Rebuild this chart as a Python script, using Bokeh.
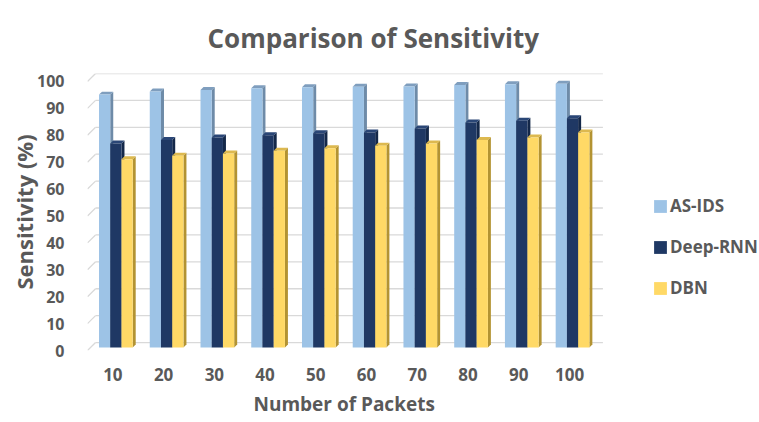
from bokeh.plotting import figure
from bokeh.models import (Range1d, FixedTicker, Legend, LegendItem, Title,
                          ColumnDataSource)
from bokeh.embed import file_html
from bokeh.resources import INLINE

# ---- data -------------------------------------------------------------
packets = ["10", "20", "30", "40", "50", "60", "70", "80", "90", "100"]
as_ids = [94.0, 95.2, 95.7, 96.4, 96.7, 96.9, 97.0, 97.6, 97.9, 98.0]
deep_rnn = [75.8, 77.1, 78.1, 78.9, 79.6, 79.9, 81.4, 83.6, 84.3, 85.2]
dbn = [70.0, 71.3, 72.1, 73.1, 74.1, 75.0, 75.8, 77.1, 78.1, 79.9]
series_names = ["AS-IDS", "Deep-RNN", "DBN"]
y_ticks = [0, 10, 20, 30, 40, 50, 60, 70, 80, 90, 100]

# ---- styling ----------------------------------------------------------
FRONT = ["#9DC3E6", "#1F3864", "#FFD966"]
SIDE = ["#6E8BA8", "#142849", "#B39332"]
TOP = ["#7F9EBE", "#2A4676", "#DDB94F"]
TEXT = "#595959"
GRID = "#D9D9D9"
FONT = "Open Sans"

# pseudo-3D geometry in data units
WALL_DX, WALL_DY = 0.158, 2.96     # depth of floor / back wall
BAR_DX, BAR_DY = 0.059, 1.11       # bars sit a little behind the front edge
CAP_DX, CAP_DY = 0.059, 1.11       # thickness of the bars
GROUP_W = 0.664
BAR_W = GROUP_W / 3

p = figure(width=759, height=422, title=None,
           x_range=Range1d(0, 13.244), y_range=Range1d(0, 102.96),
           min_border_left=87, min_border_right=0,
           min_border_top=72, min_border_bottom=72,
           toolbar_location=None, output_backend="svg")
p.xgrid.visible = False
p.ygrid.visible = False
p.outline_line_color = None
p.background_fill_color = "white"
p.border_fill_color = "white"

n = len(packets)

# back-wall gridlines and the short diagonals on the side wall
p.segment(x0=[WALL_DX] * len(y_ticks), y0=[v + WALL_DY for v in y_ticks],
          x1=[n + WALL_DX] * len(y_ticks), y1=[v + WALL_DY for v in y_ticks],
          line_color=GRID, line_width=1.3)
p.segment(x0=[0] * len(y_ticks), y0=y_ticks,
          x1=[WALL_DX] * len(y_ticks), y1=[v + WALL_DY for v in y_ticks],
          line_color=GRID, line_width=1.3)

legend_items = []
for j, (name, vals) in enumerate(zip(series_names, [as_ids, deep_rnn, dbn])):
    left = [i + 0.5 - GROUP_W / 2 + j * BAR_W + BAR_DX for i in range(n)]
    right = [l + BAR_W for l in left]
    bottom = [BAR_DY] * n
    top = [v + BAR_DY for v in vals]

    side_xs = [[r, r + CAP_DX, r + CAP_DX, r] for r in right]
    side_ys = [[b, b + CAP_DY, t + CAP_DY, t] for b, t in zip(bottom, top)]
    p.patches(xs=side_xs, ys=side_ys, fill_color=SIDE[j], line_color=None)

    cap_xs = [[l, r, r + CAP_DX, l + CAP_DX] for l, r in zip(left, right)]
    cap_ys = [[t, t, t + CAP_DY, t + CAP_DY] for t in top]
    p.patches(xs=cap_xs, ys=cap_ys, fill_color=TOP[j], line_color=None)

    src = ColumnDataSource(dict(left=left, right=right, bottom=bottom, top=top))
    r = p.quad(left="left", right="right", bottom="bottom", top="top",
               source=src, fill_color=FRONT[j], line_color=None)
    legend_items.append(LegendItem(label=name, renderers=[r]))

# axes
p.yaxis.ticker = FixedTicker(ticks=y_ticks)
p.yaxis.axis_line_color = None
p.yaxis.major_tick_line_color = None
p.yaxis.major_tick_out = 0
p.yaxis.minor_tick_line_color = None
p.yaxis.minor_tick_out = 0
p.yaxis.major_label_standoff = 23
p.yaxis.major_label_text_font = FONT
p.yaxis.major_label_text_font_style = "bold"
p.yaxis.major_label_text_font_size = "16px"
p.yaxis.major_label_text_color = TEXT
p.yaxis.axis_label = "Sensitivity (%)"
p.yaxis.axis_label_standoff = -5
p.yaxis.axis_label_text_font = FONT
p.yaxis.axis_label_text_font_style = "bold"
p.yaxis.axis_label_text_font_size = "22px"
p.yaxis.axis_label_text_color = TEXT

xt = [i + 0.5 for i in range(n)]
p.xaxis.ticker = FixedTicker(ticks=xt)
p.xaxis.major_label_overrides = {t: lab for t, lab in zip(xt, packets)}
p.xaxis.axis_line_color = None
p.xaxis.major_tick_line_color = None
p.xaxis.major_tick_out = 0
p.xaxis.minor_tick_line_color = None
p.xaxis.minor_tick_out = 0
p.xaxis.major_label_standoff = 17
p.xaxis.major_label_text_font = FONT
p.xaxis.major_label_text_font_style = "bold"
p.xaxis.major_label_text_font_size = "17px"
p.xaxis.major_label_text_color = TEXT

# titles
p.add_layout(Title(text="Comparison of Sensitivity", align="left", offset=120,
                   standoff=35, text_font=FONT, text_font_style="bold",
                   text_font_size="26px", text_color=TEXT), "above")
p.add_layout(Title(text="Number of Packets", align="left", offset=166,
                   standoff=10, text_font=FONT, text_font_style="bold",
                   text_font_size="19px", text_color=TEXT), "below")

legend = Legend(items=legend_items, location=(565, 51),
                glyph_width=16, glyph_height=16, label_height=16,
                label_standoff=2, spacing=18, padding=0, margin=0,
                border_line_color=None, background_fill_alpha=0,
                label_text_font=FONT, label_text_font_style="bold",
                label_text_font_size="17px", label_text_color=TEXT)
p.add_layout(legend)

open("out.html", "w").write(file_html(p, INLINE))
